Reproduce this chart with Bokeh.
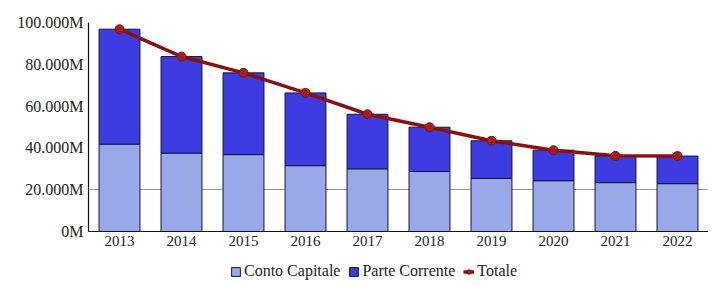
from bokeh.plotting import figure
from bokeh.models import FactorRange, Range1d, ColumnDataSource, Legend, LegendItem, FixedTicker
from bokeh.layouts import column
from bokeh.embed import file_html
from bokeh.resources import INLINE

years = ["2013", "2014", "2015", "2016", "2017", "2018", "2019", "2020", "2021", "2022"]
conto_capitale = [41.8, 37.5, 36.8, 31.5, 30.0, 28.7, 25.4, 24.3, 23.4, 22.9]
totale = [96.8, 83.7, 75.9, 66.3, 56.1, 49.9, 43.4, 38.9, 36.2, 36.1]
parte_corrente = [t - c for t, c in zip(totale, conto_capitale)]
y_ticks = [0, 20, 40, 60, 80, 100]
y_labels = ["0M", "20.000M", "40.000M", "60.000M", "80.000M", "100.000M"]
series_names = ["Conto Capitale", "Parte Corrente", "Totale"]

FONT = "Liberation Serif"
C_CC, C_PC, C_LINE, C_PT = "#98a8e8", "#3c3ce0", "#8a0f0f", "#a02020"

src = ColumnDataSource(dict(years=years, cc=conto_capitale, pc=parte_corrente, tot=totale))

p = figure(x_range=FactorRange(*years, range_padding=0), y_range=Range1d(0, 100),
           width=708, height=250, output_backend="svg", toolbar_location=None,
           min_border_left=88, min_border_top=22, min_border_right=0, min_border_bottom=19)
p.outline_line_color = None

r_bars = p.vbar_stack(["cc", "pc"], x="years", width=0.66, source=src,
                      color=[C_CC, C_PC], line_color="#14143c", line_width=1)
r_line = p.line("years", "tot", source=src, line_color=C_LINE, line_width=3.5)
r_pts = p.scatter("years", "tot", source=src, size=9, fill_color=C_PT, line_color=C_LINE)

p.xgrid.grid_line_color = None
p.ygrid.ticker = FixedTicker(ticks=[20, 100])
p.ygrid.grid_line_color = "#9a9a9a"
p.ygrid.grid_line_width = 1
p.ygrid.level = "underlay"

p.yaxis.ticker = FixedTicker(ticks=y_ticks)
p.yaxis.major_label_overrides = {t: l for t, l in zip(y_ticks, y_labels)}
for ax in (p.xaxis[0], p.yaxis[0]):
    ax.major_label_text_font = FONT
    ax.major_label_text_font_size = "15px"
    ax.major_label_text_color = "#222222"
    ax.major_tick_out = 0
    ax.major_tick_in = 0
    ax.minor_tick_out = 0
    ax.minor_tick_in = 0
    ax.axis_line_color = "#111111"
    ax.axis_line_width = 1.2
p.yaxis.major_label_text_font_size = "16px"
p.yaxis.major_label_standoff = 5
p.xaxis.major_label_standoff = 4

# legend strip (placeholder renderers lie outside the visible range)
lg = figure(width=708, height=36, output_backend="svg", toolbar_location=None,
            x_range=Range1d(0, 1), y_range=Range1d(0, 1),
            x_axis_location=None, y_axis_location=None, min_border=0)
lg.grid.visible = False
lg.outline_line_color = None
e = ColumnDataSource(dict(x=[-10], y=[-10], top=[-9]))
l1 = lg.vbar(x="x", top="top", bottom="y", width=0.1, source=e, fill_color=C_CC, line_color="#14143c")
l2 = lg.vbar(x="x", top="top", bottom="y", width=0.1, source=e, fill_color=C_PC, line_color="#14143c")
l3 = lg.line("x", "y", source=e, line_color=C_LINE, line_width=3.5)
l4 = lg.scatter("x", "y", source=e, size=9, fill_color=C_PT, line_color=C_LINE)
legend = Legend(items=[
    LegendItem(label=series_names[0], renderers=[l1]),
    LegendItem(label=series_names[1], renderers=[l2]),
    LegendItem(label=series_names[2], renderers=[l3, l4]),
], orientation="horizontal", location=(142, 6),
    label_text_font=FONT, label_text_font_size="16px", label_text_color="#222222",
    glyph_width=11, glyph_height=11, label_standoff=3, spacing=8,
    padding=2, margin=0, border_line_color=None, background_fill_alpha=0)
lg.add_layout(legend, "center")

layout = column(p, lg, spacing=0)
open("out.html", "w").write(file_html(layout, INLINE))
